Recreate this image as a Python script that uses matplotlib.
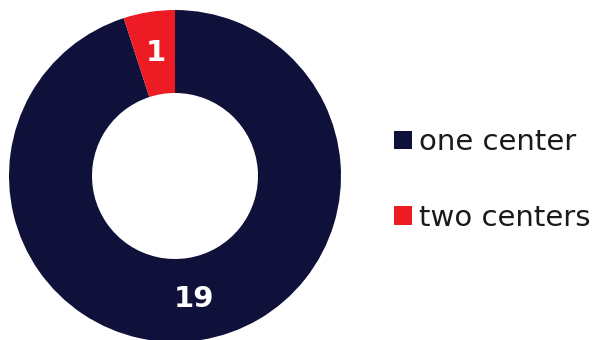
import matplotlib.pyplot as plt
from matplotlib.patches import Patch

labels = ['one center', 'two centers']
counts = [19, 1]
colors = ['#10113a', '#ed1c24']

plt.rcParams['font.family'] = ['DejaVu Sans']

fig = plt.figure(figsize=(5.95, 3.4), dpi=100)
ax = fig.add_axes([9 / 595, -2 / 340, 332 / 595, 332 / 340])

wedges, texts, autotexts = ax.pie(
    counts, colors=colors, startangle=90, counterclock=False,
    radius=1, wedgeprops=dict(width=0.5, edgecolor='none'),
    autopct=lambda p: '%d' % round(p * sum(counts) / 100),
    pctdistance=0.75)
for t in autotexts:
    t.set_color('white')
    t.set_fontsize(21)
    t.set_fontweight('bold')
ax.set_xlim(-1, 1)
ax.set_ylim(-1, 1)
ax.set_aspect('equal')

handles = [Patch(facecolor=c, edgecolor='none') for c in colors]
fig.legend(handles, labels, loc='center left', bbox_to_anchor=(394 / 595, 1 - 180 / 340),
           frameon=False, fontsize=21, handlelength=0.6, handleheight=0.6,
           handletextpad=0.25, labelspacing=1.63, borderpad=0, borderaxespad=0,
           labelcolor='#1a1a1a')

fig.savefig('out.png', dpi=100)
